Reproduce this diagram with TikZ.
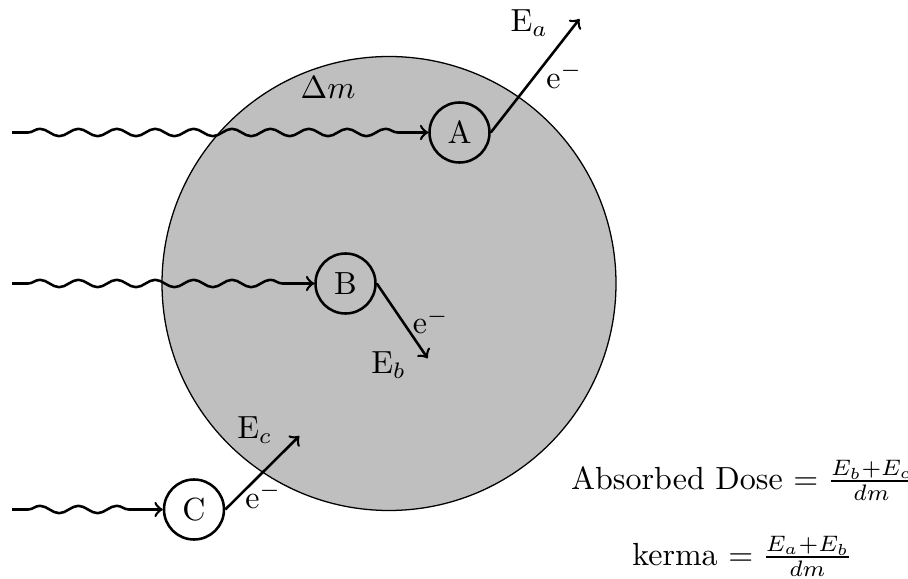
\documentclass[tikz,border=0pt]{standalone}
\usetikzlibrary{decorations.pathmorphing}
\begin{document}
\begin{tikzpicture}[x=0.3125pt,y=-0.3125pt,
  particle/.style={circle,draw,thick,minimum size=18.75pt,inner sep=0pt},
  photon/.style={thick,->,decorate,decoration={snake,segment length=12pt,amplitude=1.15pt,pre length=5pt,post length=5pt}},
  electron/.style={thick,->},
  lbl/.style={inner sep=0pt,anchor=base west},
  formula/.style={inner sep=0pt,anchor=base}]
\useasboundingbox (0,0) rectangle (908,579);
% mass element
\node[circle,draw,fill=lightgray,line width=0.4pt,minimum size=141.875pt,inner sep=0pt] (mass) at (389,283.5) {};
% interaction sites
\node[particle] (A) at (459.5,132.5) {A};
\node[particle] (B) at (345.5,283.5) {B};
\node[particle] (C) at (194,509.5) {C};
% photon starts
\coordinate (sA) at (12,132.5);
\coordinate (sB) at (12,283.5);
\coordinate (sC) at (12,509.5);
\draw[photon] (sA) -- (A);
\draw[photon] (sB) -- (B);
\draw[photon] (sC) -- (C);
% electron tips
\coordinate (tA) at (579.5,19);
\coordinate (tB) at (427.7,358.3);
\coordinate (tC) at (299.3,436);
\draw[electron] (A.east) -- (tA);
\draw[electron] (B.east) -- (tB);
\draw[electron] (C.east) -- (tC);
% labels
\node[lbl] (Ea) at (510,31.7) {E$_a$};
\node[lbl] (eA) at (545.7,88.3) {e$^-$};
\node[lbl] (dm) at (300,98.5) {$\Delta m$};
\node[lbl] (eB) at (412.3,334) {e$^-$};
\node[lbl] (Eb) at (370.7,374) {E$_b$};
\node[lbl] (Ec) at (236.7,438.3) {E$_c$};
\node[lbl] (eC) at (244.7,508.3) {e$^-$};
% formulas
\node[formula] (dose) at (743.5,489) {Absorbed Dose $=\frac{E_b+E_c}{dm}$};
\node[formula] (kerma) at (742.5,565) {kerma $=\frac{E_a+E_b}{dm}$};
\end{tikzpicture}
\end{document}
